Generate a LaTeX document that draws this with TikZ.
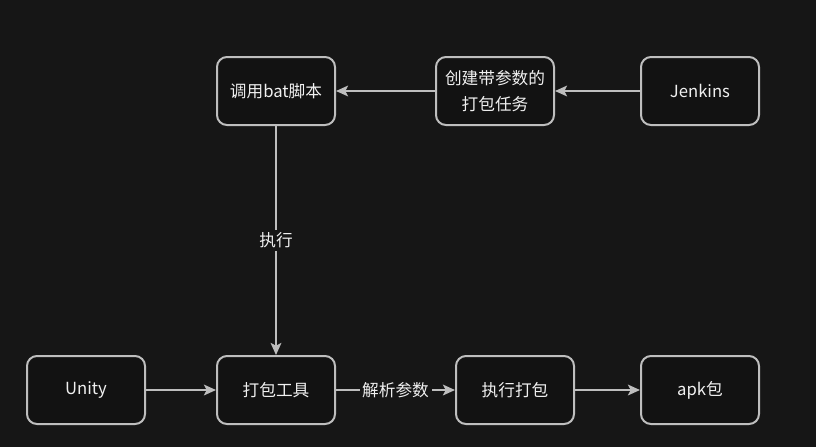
\documentclass[tikz,border=0pt]{standalone}
\usepackage{fontspec}
\setmainfont{Noto Sans CJK SC}
\usetikzlibrary{arrows.meta}
\definecolor{bgdark}{HTML}{161616}
\definecolor{boxfill}{HTML}{121212}
\definecolor{edgegray}{HTML}{BEBEBE}
\definecolor{textwhite}{HTML}{F0F0F0}
\begin{document}
\begin{tikzpicture}
                [x=0.75pt,y=-0.75pt,
                box/.style={rectangle,rounded corners=7.5pt,draw=edgegray,line width=1.5pt,fill=boxfill,
                    minimum width=88.5pt,minimum height=51pt,inner sep=0pt,align=center,
                    text=textwhite,font=\fontsize{12.5}{20}\selectfont},
                arrow/.style={-{Stealth[length=9pt,width=8pt,inset=2pt]},draw=edgegray,line width=1.5pt},
                lbl/.style={fill=bgdark,text=textwhite,inner sep=2pt,font=\fontsize{12.5}{15}\selectfont},
                ]
                \fill[bgdark] (0,0) rectangle (816,447);
                \useasboundingbox (0,0) rectangle (816,447);
                % top row
                \node[box] (callbat) at (276,91) {调用bat脚本};
                \node[box] (createjob) at (495,91) {创建带参数的\\打包任务};
                \node[box] (jenkins) at (700,91) {Jenkins};
                % bottom row
                \node[box] (unity) at (86,390) {Unity};
                \node[box] (packtool) at (276,390) {打包工具};
                \node[box] (runpack) at (515,390) {执行打包};
                \node[box] (apk) at (700,390) {apk包};
                \draw[arrow] (jenkins) -- (createjob);
                \draw[arrow] (createjob) -- (callbat);
                \draw[arrow] (callbat) -- node[lbl] {执行} (packtool);
                \draw[arrow] (unity) -- (packtool);
                \draw[arrow] (packtool) -- node[lbl] {解析参数} (runpack);
                \draw[arrow] (runpack) -- (apk);
            \end{tikzpicture}
\end{document}
